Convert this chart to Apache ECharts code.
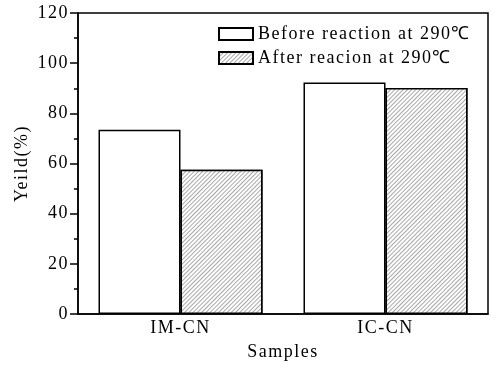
<!DOCTYPE html>
<html>
<head>
<meta charset="utf-8">
<script src="https://cdn.jsdelivr.net/npm/echarts@6/dist/echarts.min.js"></script>
<style>
  html, body { margin: 0; padding: 0; background: #fff; }
  #chart { width: 496px; height: 366px; }
</style>
</head>
<body>
<div id="chart"></div>
<script>
var samples = ['IM-CN', 'IC-CN'];
var beforeData = [73.5, 92.3];
var afterData = [57.5, 90.1];
var seriesNames = ['Before reaction at 290℃', 'After reacion at 290℃'];

// the original figure's text is slightly letter-spaced
var origFillText = CanvasRenderingContext2D.prototype.fillText;
CanvasRenderingContext2D.prototype.fillText = function () {
    this.letterSpacing = '1.5px';
    var r = origFillText.apply(this, arguments);
    this.letterSpacing = '0px';
    return r;
};

// diagonal hatch for the "after" bars
var hatchDecal = {
    symbol: 'rect',
    color: '#a8a8a8',
    backgroundColor: '#fff',
    dashArrayX: [1, 0],
    dashArrayY: [1, 2],
    rotation: -Math.PI / 4
};

var font = 'Liberation Serif';
var myChart = echarts.init(document.getElementById('chart'));
var option = {
    animation: false,
    textStyle: { fontFamily: font, color: '#000' },
    grid: {
        left: 78, right: 8, top: 13, bottom: 51,
        show: true, borderColor: '#000', borderWidth: 1.5
    },
    legend: {
        orient: 'vertical',
        left: 213, top: 20,
        itemWidth: 34, itemHeight: 12,
        itemGap: 6,
        icon: 'rect',
        data: seriesNames,
        textStyle: { fontFamily: font, fontSize: 18, color: '#000' }
    },
    xAxis: {
        type: 'category',
        data: samples,
        name: 'Samples',
        nameLocation: 'middle',
        nameGap: 29,
        nameTextStyle: { fontFamily: font, fontSize: 18, color: '#000' },
        axisLine: { lineStyle: { color: '#000', width: 1.5 } },
        axisTick: { show: false },
        axisLabel: { fontFamily: font, fontSize: 18, color: '#000', margin: 5 }
    },
    yAxis: {
        type: 'value',
        min: 0, max: 120, interval: 20,
        name: 'Yeild(%)',
        nameLocation: 'middle',
        nameGap: 46,
        nameTextStyle: { fontFamily: font, fontSize: 18, color: '#000' },
        axisLine: { show: true, lineStyle: { color: '#000', width: 1.5 } },
        axisTick: { show: true, length: 8, lineStyle: { color: '#000', width: 1.5 } },
        minorTick: { show: true, splitNumber: 2, length: 4, lineStyle: { color: '#000', width: 1.5 } },
        splitLine: { show: false },
        axisLabel: { fontFamily: font, fontSize: 18, color: '#000', margin: 9 }
    },
    series: [
        {
            name: seriesNames[0],
            type: 'bar',
            data: beforeData,
            barGap: '0%',
            barCategoryGap: '20%',
            itemStyle: { color: '#fff', borderColor: '#000', borderWidth: 1.5 }
        },
        {
            name: seriesNames[1],
            type: 'bar',
            data: afterData,
            itemStyle: {
                color: '#fff',
                decal: hatchDecal,
                borderColor: '#000', borderWidth: 1.5
            }
        }
    ]
};
myChart.setOption(option);
</script>
</body>
</html>
